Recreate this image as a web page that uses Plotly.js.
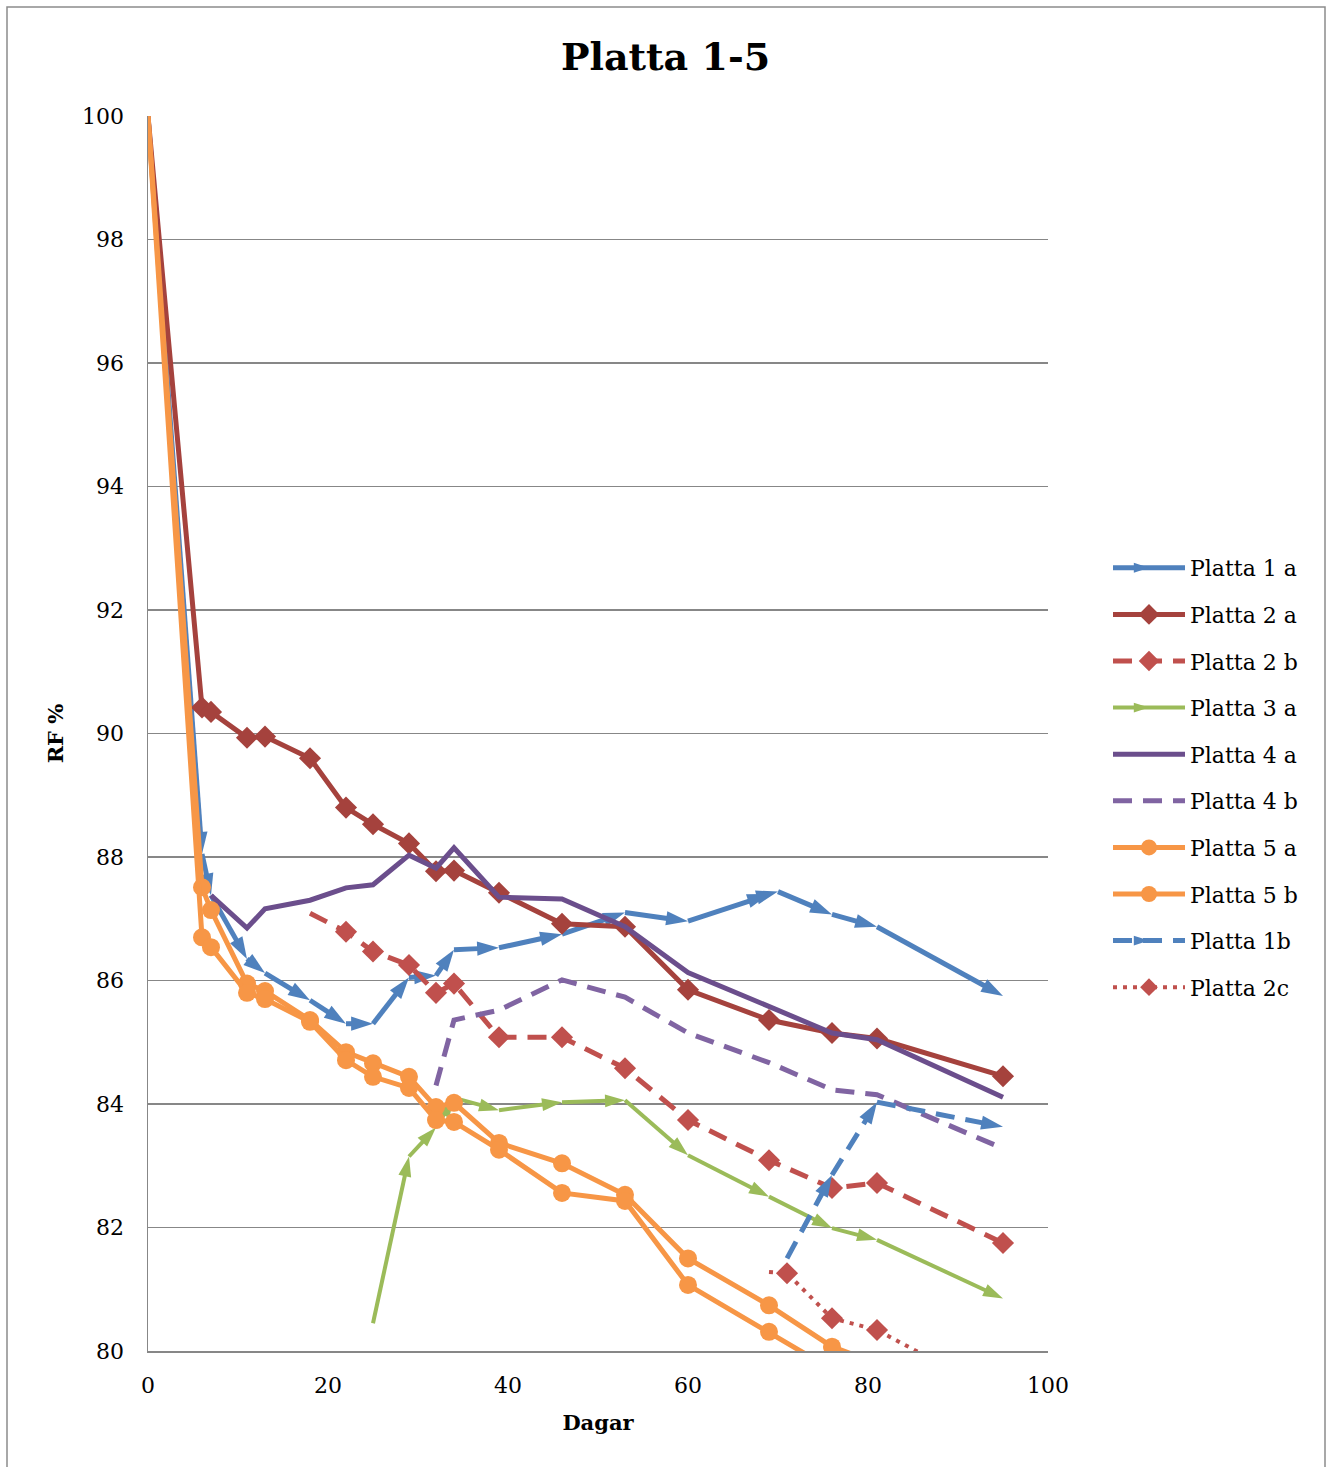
<!DOCTYPE html>
<html>
<head>
<meta charset="utf-8">
<script src="https://cdn.plot.ly/plotly-3.0.1.min.js"></script>
<style>html,body{margin:0;padding:0;background:#fff;}#chart{width:1331px;height:1467px;}</style>
</head>
<body>
<div id="chart"></div>
<script>
// ---- Data ----
const p1aDays = [0, 6, 7, 11, 13, 18, 22, 25, 29, 32, 34, 39, 46, 53, 60, 69, 70, 76, 81, 95];
const p1aRF   = [100, 88.05, 87.38, 86.35, 86.12, 85.68, 85.3, 85.3, 86.05, 86.08, 86.5, 86.53, 86.75, 87.1, 86.96, 87.4, 87.44, 87.07, 86.87, 85.75];

const p2aDays = [0, 6, 7, 11, 13, 18, 22, 25, 29, 32, 34, 39, 46, 53, 60, 69, 76, 81, 95];
const p2aRF   = [100, 90.42, 90.35, 89.93, 89.95, 89.6, 88.8, 88.53, 88.22, 87.77, 87.78, 87.42, 86.92, 86.87, 85.85, 85.36, 85.15, 85.06, 84.45];

const p2bDays = [18, 22, 25, 29, 32, 34, 39, 46, 53, 60, 69, 76, 81, 95];
const p2bRF   = [87.09, 86.79, 86.47, 86.25, 85.8, 85.95, 85.08, 85.08, 84.58, 83.74, 83.09, 82.64, 82.72, 81.75];

const p3aDays = [25, 29, 32, 34, 39, 46, 53, 60, 69, 76, 81, 95];
const p3aRF   = [80.45, 83.15, 83.62, 84.1, 83.9, 84.03, 84.06, 83.17, 82.5, 81.99, 81.8, 80.85];

const p4aDays = [7, 11, 13, 18, 22, 25, 29, 32, 34, 39, 46, 53, 60, 69, 76, 81, 95];
const p4aRF   = [87.38, 86.85, 87.16, 87.3, 87.5, 87.55, 88.03, 87.82, 88.15, 87.35, 87.32, 86.87, 86.13, 85.57, 85.15, 85.04, 84.11];

const p4bDays = [32, 34, 39, 46, 53, 60, 69, 76, 81, 95];
const p4bRF   = [84.3, 85.36, 85.52, 86.01, 85.73, 85.15, 84.67, 84.23, 84.15, 83.28];

const p5aDays = [0, 6, 7, 11, 13, 18, 22, 25, 29, 32, 34, 39, 46, 53, 60, 69, 76, 81];
const p5aRF   = [100, 87.51, 87.14, 85.95, 85.83, 85.36, 84.84, 84.66, 84.44, 83.95, 84.02, 83.37, 83.04, 82.53, 81.5, 80.74, 80.07, 79.8];

const p5bDays = [0, 6, 7, 11, 13, 18, 22, 25, 29, 32, 34, 39, 46, 53, 60, 69, 76];
const p5bRF   = [100, 86.7, 86.54, 85.8, 85.7, 85.33, 84.71, 84.44, 84.26, 83.74, 83.71, 83.26, 82.56, 82.43, 81.07, 80.31, 79.7];

const p1bDays = [71, 76, 81, 95];
const p1bRF   = [81.5, 82.85, 84.03, 83.63];

const p2cDays = [69, 71, 76, 81, 95];
const p2cRF   = [81.28, 81.26, 80.53, 80.34, 79.25];

const seriesNames = ['Platta 1 a', 'Platta 2 a', 'Platta 2 b', 'Platta 3 a', 'Platta 4 a',
                     'Platta 4 b', 'Platta 5 a', 'Platta 5 b', 'Platta 1b', 'Platta 2c'];

const xTickVals = [0, 20, 40, 60, 80, 100];
const yTickVals = [80, 82, 84, 86, 88, 90, 92, 94, 96, 98, 100];

// ---- Styling helpers ----
const FONT = '"DejaVu Serif", "Liberation Serif", serif';
const noFirst = (arr, s) => arr.map((_, i) => (i === 0 ? 0 : s));

function trace(name, x, y, color, width, dash, symbol, msize, angled) {
  const t = {
    type: 'scatter',
    mode: symbol ? 'lines+markers' : 'lines',
    name: name,
    legendgroup: name,
    x: x, y: y,
    line: { color: color, width: width, dash: dash },
    cliponaxis: true
  };
  if (symbol) {
    t.marker = { symbol: symbol, size: noFirst(x, msize), color: color, opacity: 1, line: { width: 0 } };
    if (angled) t.marker.angleref = 'previous';
  }
  return t;
}

const DASH = '19px,11px';
const data = [
  trace(seriesNames[0], p1aDays, p1aRF, '#4F81BD', 5, 'solid', 'arrow', 23, true),
  trace(seriesNames[1], p2aDays, p2aRF, '#A5423D', 5, 'solid', 'diamond', 17, false),
  trace(seriesNames[2], p2bDays, p2bRF, '#C0504D', 5, DASH, 'diamond', 17, false),
  trace(seriesNames[3], p3aDays, p3aRF, '#9BBB59', 4, 'solid', 'arrow', 21, true),
  trace(seriesNames[4], p4aDays, p4aRF, '#6B4E8C', 5, 'solid', null),
  trace(seriesNames[5], p4bDays, p4bRF, '#8064A2', 5, DASH, null),
  trace(seriesNames[6], p5aDays, p5aRF, '#F79646', 5, 'solid', 'circle', 18, false),
  trace(seriesNames[7], p5bDays, p5bRF, '#F79646', 5, 'solid', 'circle', 18, false),
  trace(seriesNames[8], p1bDays, p1bRF, '#4F81BD', 5, DASH, 'arrow', 23, true),
  trace(seriesNames[9], p2cDays, p2cRF, '#C0504D', 4, '4px,6px', 'diamond', 17, false)
];

const GRID = '#878787';
const layout = {
  width: 1331,
  height: 1467,
  paper_bgcolor: '#ffffff',
  plot_bgcolor: '#ffffff',
  margin: { l: 148, r: 283, t: 116, b: 116, pad: 0 },
  font: { family: FONT, size: 22, color: '#000' },
  title: {
    text: '<b>Platta 1-5</b>',
    font: { family: FONT, size: 38, color: '#000' },
    x: 0.5, xref: 'container', xanchor: 'center',
    y: 1 - 57 / 1467, yref: 'container', yanchor: 'middle'
  },
  xaxis: {
    range: [0, 100],
    tickvals: xTickVals,
    showgrid: false,
    zeroline: false,
    showline: true,
    linecolor: GRID,
    linewidth: 1.5,
    ticks: '',
    ticklabelstandoff: 14,
    tickfont: { family: FONT, size: 22, color: '#000' },
    title: { text: '<b>Dagar</b>', font: { family: FONT, size: 21, color: '#000' }, standoff: 18 }
  },
  yaxis: {
    range: [80, 100],
    tickvals: yTickVals,
    showgrid: true,
    gridcolor: GRID,
    gridwidth: 1.6,
    zeroline: false,
    showline: true,
    linecolor: GRID,
    linewidth: 1.5,
    ticks: '',
    ticklabelstandoff: 18,
    tickfont: { family: FONT, size: 22, color: '#000' },
    title: { text: '<b>RF %</b>', font: { family: FONT, size: 21, color: '#000' }, standoff: 12 }
  },
  showlegend: true,
  legend: {
    x: (1108 - 148) / 900,
    xanchor: 'left',
    y: (1351 - 547) / 1235,
    yanchor: 'top',
    traceorder: 'grouped',
    tracegroupgap: 15,
    itemwidth: 72,
    font: { family: FONT, size: 22, color: '#000' },
    bgcolor: 'rgba(0,0,0,0)'
  },
  shapes: [{
    type: 'rect', xref: 'paper', yref: 'paper', layer: 'below',
    x0: (7 - 148) / 900, x1: (1325 - 148) / 900,
    y0: (1351 - 1475) / 1235, y1: (1351 - 7) / 1235,
    line: { color: '#8C8C8C', width: 1.5 }, fillcolor: 'rgba(0,0,0,0)'
  }]
};

Plotly.newPlot('chart', data, layout, { displayModeBar: false, staticPlot: true });
</script>
</body>
</html>
